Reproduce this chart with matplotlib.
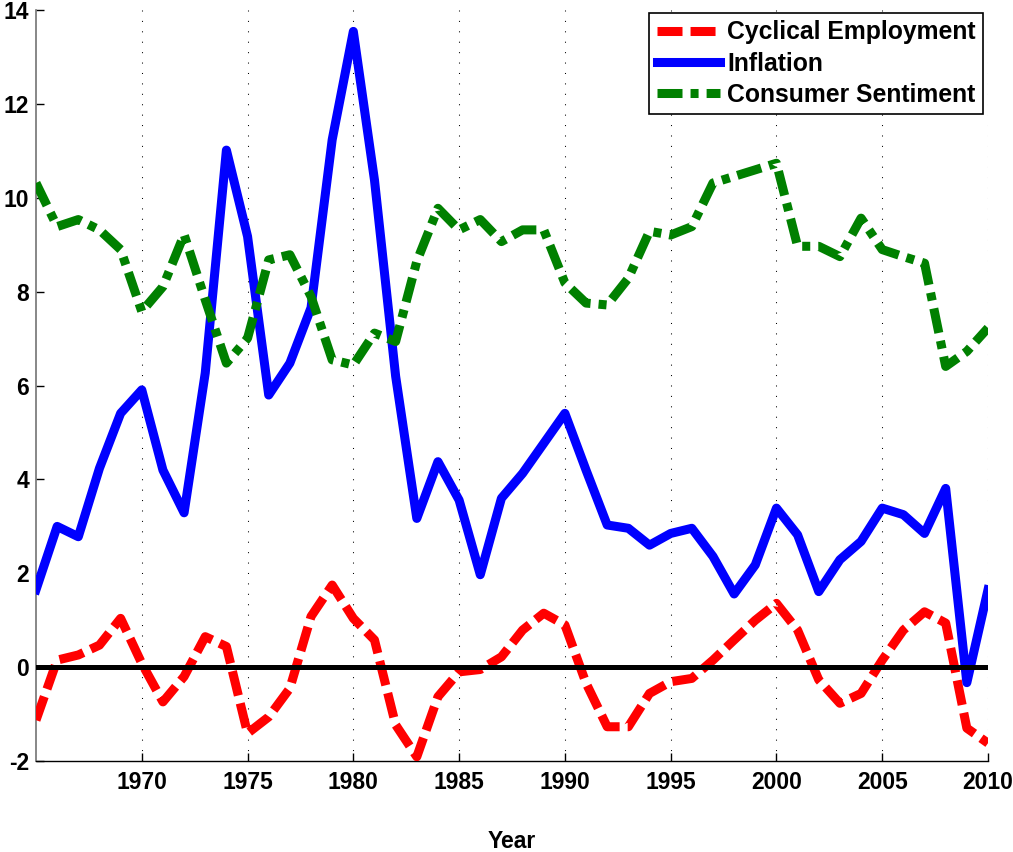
import matplotlib
matplotlib.use("Agg")
import matplotlib.pyplot as plt

years = list(range(1965, 2011))

cyclical_employment = [-1.13, 0.15, 0.26, 0.47, 1.04, 0.08, -0.74, -0.20, 0.65, 0.44,
                       -1.41, -1.06, -0.45, 1.08, 1.75, 1.04, 0.58, -1.23, -1.91, -0.63,
                       -0.10, -0.05, 0.22, 0.79, 1.15, 0.90, -0.34, -1.27, -1.27, -0.56,
                       -0.31, -0.24, 0.15, 0.58, 1.00, 1.36, 0.79, -0.27, -0.77, -0.56,
                       0.15, 0.79, 1.18, 0.94, -1.30, -1.62]

inflation = [1.65, 3.00, 2.78, 4.24, 5.41, 5.91, 4.20, 3.29, 6.27, 11.02,
             9.18, 5.80, 6.48, 7.66, 11.24, 13.55, 10.38, 6.20, 3.17, 4.38,
             3.56, 1.97, 3.60, 4.13, 4.77, 5.41, 4.20, 3.03, 2.96, 2.60,
             2.85, 2.96, 2.36, 1.56, 2.18, 3.39, 2.82, 1.61, 2.29, 2.68,
             3.39, 3.25, 2.85, 3.81, -0.33, 1.65]

consumer_sentiment = [10.32, 9.39, 9.54, 9.32, 8.90, 7.58, 8.11, 9.22, 7.83, 6.48,
                      7.01, 8.68, 8.79, 7.90, 6.55, 6.44, 7.12, 6.94, 8.65, 9.78,
                      9.32, 9.54, 9.07, 9.32, 9.32, 8.19, 7.76, 7.72, 8.29, 9.29,
                      9.21, 9.39, 10.32, 10.46, 10.60, 10.74, 8.97, 8.97, 8.75, 9.57,
                      8.90, 8.75, 8.61, 6.41, 6.73, 7.23]

labels = ["Cyclical Employment", "Inflation", "Consumer Sentiment"]
x_ticks = [1970, 1975, 1980, 1985, 1990, 1995, 2000, 2005, 2010]
y_ticks = [-2, 0, 2, 4, 6, 8, 10, 12, 14]

plt.rcParams['font.family'] = ['Liberation Sans', 'DejaVu Sans']
plt.rcParams['font.weight'] = 'bold'

fig = plt.figure(figsize=(10.13, 8.52), dpi=100)
ax = fig.add_axes([36/1013, 1 - 761/852, (988-36)/1013, (761-10.3)/852])

lw = 6.5
l1, = ax.plot(years, cyclical_employment, color='#ff0000', lw=lw, dashes=(2.77, 0.89),
              dash_capstyle='butt', label=labels[0], zorder=3)
l2, = ax.plot(years, inflation, color='#0000ff', lw=lw, label=labels[1], zorder=3,
              solid_joinstyle='round')
l3, = ax.plot(years, consumer_sentiment, color='#008000', lw=lw,
              dashes=(2.77, 0.89, 0.89, 0.89), dash_capstyle='butt', label=labels[2], zorder=3)
ax.axhline(0, color='black', lw=3.6, zorder=4)

ax.set_xlim(1965, 2010)
ax.set_ylim(-2, 14)
ax.set_xticks(x_ticks)
ax.set_yticks(y_ticks)
ax.set_xticklabels([str(t) for t in x_ticks])
ax.set_yticklabels([str(t) for t in y_ticks])

for xt in x_ticks:
    ax.axvline(xt, color='black', lw=0.75, linestyle=(0, (1, 9)), zorder=1)

ax.spines['top'].set_visible(False)
ax.spines['right'].set_visible(False)
ax.spines['left'].set_color('0.45')
ax.spines['left'].set_linewidth(1.2)
ax.spines['bottom'].set_color('black')
ax.spines['bottom'].set_linewidth(1.0)
ax.tick_params(direction='in', length=6, width=1, labelsize=16.5)
ax.tick_params(axis='x', pad=7)
ax.tick_params(axis='y', pad=5)
for lab in ax.get_xticklabels() + ax.get_yticklabels():
    lab.set_fontweight('bold')

ax.set_xlabel('Year', fontsize=16.5, fontweight='bold', labelpad=26)

leg = ax.legend(handles=[l1, l2, l3], loc='upper right',
                bbox_to_anchor=((983-36)/(988-36), (761-13)/(761-10.3)),
                borderaxespad=0, fontsize=17.8, frameon=True, fancybox=False,
                edgecolor='black', framealpha=1, handlelength=2.55,
                handletextpad=0.3, labelspacing=0.29, borderpad=0.3)
leg.get_frame().set_linewidth(1.2)
for t in leg.get_texts():
    t.set_fontweight('bold')

fig.savefig('out.png', dpi=100)
